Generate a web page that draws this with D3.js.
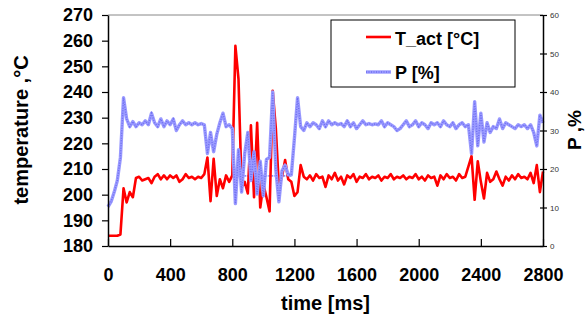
<!DOCTYPE html>
<html lang="en">
<head>
<meta charset="UTF-8">
<title>T_act and P over time</title>
<script src="https://d3js.org/d3.v7.min.js"></script>
<style>
    body { margin: 0; background: #fff; font-family: "Liberation Sans", Arial, sans-serif; }
    .tick text { font-family: "Liberation Sans", Arial, sans-serif; }
</style>
</head>
<body>
<svg width="586" height="320"></svg>
<script>
// sample times (ms), 20 ms step
const time = d3.range(0, 2801, 20);

const tAct = [
    184, 184, 184, 184, 184.5, 202.5, 197, 201, 199, 206.5,
    207, 205.5, 206, 206.5, 204.5, 207, 208, 206, 207.5, 206,
    207.5, 206.5, 207.5, 205, 206, 208, 206.5, 207, 206, 207,
    206.5, 208, 214.5, 197.5, 214, 199.5, 206, 202.5, 207.5, 205,
    207.5, 258, 245, 203, 205, 200.5, 227, 199, 228, 195,
    204, 199, 193.5, 240.5, 226, 203, 207, 213.5, 206, 205,
    199.5, 201, 211.5, 207, 206, 207.5, 205.5, 208, 206.5, 207,
    203, 207.5, 206, 208.5, 205.5, 207, 204, 207.5, 206.5, 208,
    205, 207, 206.5, 208, 206, 207, 206.5, 207.5, 205.5, 207,
    206.5, 208, 206, 207, 206.5, 207.5, 206, 207, 206.5, 208,
    206, 207, 205.5, 207.5, 206.5, 207, 203.5, 207.5, 206, 208,
    206.5, 207, 205.5, 208, 206.5, 207, 211, 215, 198, 213,
    205, 198.5, 208.5, 205, 206, 209, 206, 203.5, 207, 205.5,
    207.5, 206, 208, 206.5, 207, 206, 208.5, 204.5, 211.5, 201,
    209
];

const power = [
    10.2, 11.5, 14, 17, 23, 38.5, 33, 31, 32.3, 31,
    32, 31.5, 32.5, 31.5, 34.5, 32, 31, 33, 31, 32.5,
    31.5, 33, 30, 31.5, 32.5, 31.5, 32, 31.5, 32, 31.5,
    31.8, 31.5, 24, 29.5, 24.5, 29, 32, 34.5, 31, 31.5,
    30.5, 11, 25, 14, 24, 29.5, 17, 24.5, 13.5, 22,
    13, 22.5, 23, 40, 20, 11.5, 19.5, 21, 18.5, 18.5,
    28, 38.5, 31, 30, 32, 31, 32, 31.5, 30.5, 32.5,
    31, 32.5, 31.5, 32, 31.5, 31.8, 31, 32.5, 31, 32,
    30.5, 31.5, 32.5, 31.5, 31.8, 31.5, 31.7, 31.5, 32.5, 31,
    32, 31.5, 31, 30, 30.5, 31.5, 32.5, 31, 31.5, 32.5,
    31, 32, 31.5, 30.5, 32, 31.5, 32, 31, 32.5, 31.5,
    31, 32, 30.5, 31.5, 32, 31, 31.5, 24, 37.5, 26,
    34.5, 27, 32, 29.5, 31, 30.5, 33, 30.5, 32, 31.5,
    31, 30.5, 31.5, 31, 31.5, 30.5, 31.5, 29.5, 26, 34,
    32
];

// thin flat P segment visible under the noisy part
const pFlatTime = [800, 1180];
const pFlatValue = [18.2, 18.2];

const xTicks = [0, 400, 800, 1200, 1600, 2000, 2400, 2800];
const tTicks = [180, 190, 200, 210, 220, 230, 240, 250, 260, 270];
const pTicks = [0, 10, 20, 30, 40, 50, 60];

const svg = d3.select("svg");
const margin = {top: 15, right: 43, bottom: 74, left: 108};
const width = 586 - margin.left - margin.right;
const height = 320 - margin.top - margin.bottom;
const g = svg.append("g").attr("transform", `translate(${margin.left},${margin.top})`);

const x = d3.scaleLinear().domain([0, 2800]).range([0, width]);
const yT = d3.scaleLinear().domain([180, 270]).range([height, 0]);
const yP = d3.scaleLinear().domain([0, 60]).range([height, 0]);

// top frame line
g.append("line")
    .attr("x1", 0).attr("x2", width)
    .attr("y1", 0).attr("y2", 0)
    .attr("stroke", "#888").attr("stroke-width", 1);

// series
const tData = time.map((t, i) => ({t: t, v: tAct[i]}));
const pData = time.map((t, i) => ({t: t, v: power[i]}));
const flatData = pFlatTime.map((t, i) => ({t: t, v: pFlatValue[i]}));

const lineT = d3.line().x(d => x(d.t)).y(d => yT(d.v));
const lineP = d3.line().x(d => x(d.t)).y(d => yP(d.v));

g.append("path").datum(flatData)
    .attr("d", lineP)
    .attr("fill", "none").attr("stroke", "#3344ee")
    .attr("stroke-width", 1).attr("stroke-dasharray", "2,1");

g.append("path").datum(tData)
    .attr("d", lineT)
    .attr("fill", "none").attr("stroke", "#ff0000")
    .attr("stroke-width", 2.6).attr("stroke-linejoin", "round");

g.append("path").datum(pData)
    .attr("d", lineP)
    .attr("fill", "none").attr("stroke", "#9a9aff")
    .attr("stroke-width", 3.4).attr("stroke-linejoin", "round");
g.append("path").datum(pData)
    .attr("d", lineP)
    .attr("fill", "none").attr("stroke", "#6f6ff0")
    .attr("stroke-width", 1.4).attr("stroke-dasharray", "1,1.5");

// axes
const xAxis = g.append("g")
    .attr("transform", `translate(0,${height})`)
    .call(d3.axisBottom(x).tickValues(xTicks).tickFormat(d3.format("d"))
        .tickSizeInner(-7).tickSizeOuter(0).tickPadding(22));
xAxis.selectAll("text").attr("font-size", 18).attr("font-weight", "bold").attr("fill", "#000");

const yAxisL = g.append("g")
    .call(d3.axisLeft(yT).tickValues(tTicks).tickSize(6).tickSizeOuter(0).tickPadding(9));
yAxisL.selectAll("text").attr("font-size", 18).attr("font-weight", "bold").attr("fill", "#000");

const yAxisR = g.append("g")
    .attr("transform", `translate(${width},0)`)
    .call(d3.axisRight(yP).tickValues(pTicks).tickSize(4).tickSizeOuter(0).tickPadding(3));
yAxisR.selectAll(".tick line").attr("x1", -3);
yAxisR.selectAll("text").attr("font-size", 8).attr("fill", "#333");

[xAxis, yAxisL, yAxisR].forEach(a => {
    a.select(".domain").attr("stroke", "#000").attr("stroke-width", 1.5);
    a.selectAll(".tick line").attr("stroke", "#000").attr("stroke-width", 1.2);
});

// axis titles
svg.append("text")
    .attr("x", margin.left + width / 2).attr("y", 310)
    .attr("text-anchor", "middle")
    .attr("font-size", 20).attr("font-weight", "bold")
    .text("time [ms]");

svg.append("text")
    .attr("transform", "translate(28,130) rotate(-90)")
    .attr("text-anchor", "middle")
    .attr("font-size", 20).attr("font-weight", "bold")
    .text("temperature ,°C");

svg.append("text")
    .attr("transform", "translate(581,130) rotate(-90)")
    .attr("text-anchor", "middle")
    .attr("font-size", 19).attr("font-weight", "bold")
    .text("P ,%");

// legend
const legend = svg.append("g").attr("transform", "translate(331,20)");
legend.append("rect")
    .attr("width", 184).attr("height", 67)
    .attr("fill", "#fff").attr("stroke", "#000").attr("stroke-width", 1);

legend.append("line")
    .attr("x1", 35).attr("x2", 60).attr("y1", 17).attr("y2", 17)
    .attr("stroke", "#ff0000").attr("stroke-width", 2.6);
legend.append("text")
    .attr("x", 64).attr("y", 25)
    .attr("font-size", 18).attr("font-weight", "bold")
    .text("T_act [°C]");

legend.append("line")
    .attr("x1", 35).attr("x2", 60).attr("y1", 52).attr("y2", 52)
    .attr("stroke", "#9a9aff").attr("stroke-width", 3.4);
legend.append("line")
    .attr("x1", 35).attr("x2", 60).attr("y1", 52).attr("y2", 52)
    .attr("stroke", "#6f6ff0").attr("stroke-width", 1.4).attr("stroke-dasharray", "1,1.5");
legend.append("text")
    .attr("x", 64).attr("y", 59)
    .attr("font-size", 18).attr("font-weight", "bold")
    .text("P [%]");
</script>
</body>
</html>
